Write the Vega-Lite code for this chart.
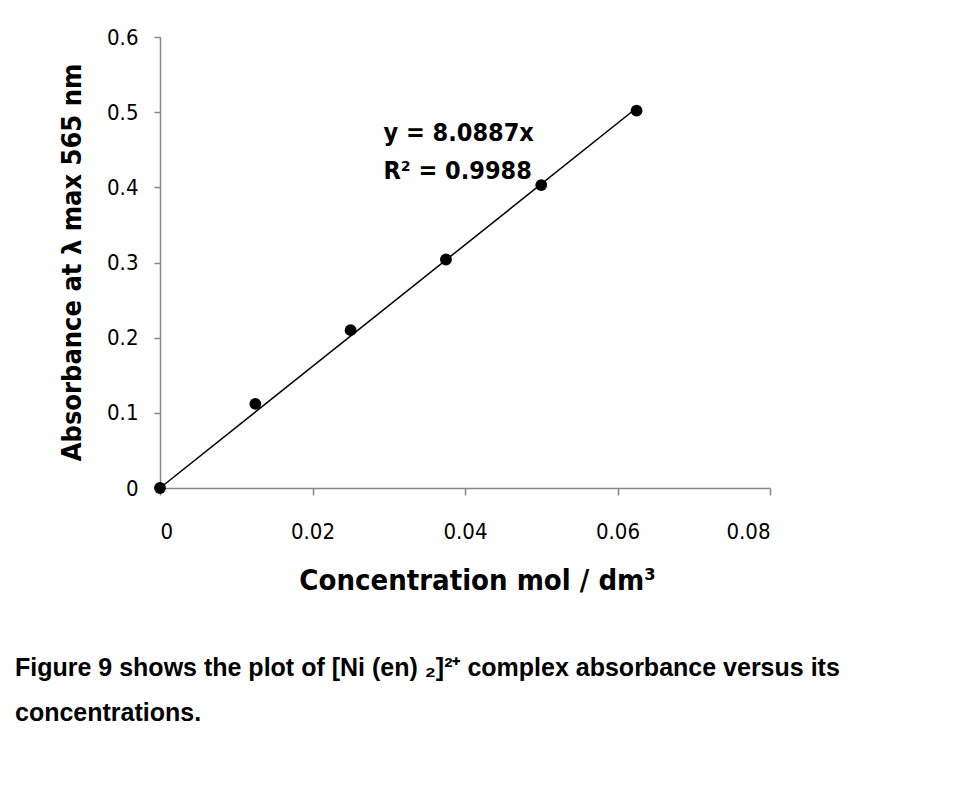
{
  "$schema": "https://vega.github.io/schema/vega-lite/v6.json",
  "width": 610,
  "height": 451,
  "autosize": {"type": "none"},
  "padding": {"left": 160, "top": 37, "right": 184, "bottom": 308},
  "background": "white",
  "config": {"view": {"stroke": null}},
  "title": {
    "text": ["Figure 9 shows the plot of [Ni (en) ₂]²⁺ complex absorbance versus its", "concentrations."],
    "orient": "bottom",
    "anchor": "start",
    "frame": "group",
    "dx": -145,
    "offset": 61,
    "font": "Liberation Sans",
    "fontSize": 25,
    "fontWeight": "bold",
    "color": "black",
    "lineHeight": 45,
    "baseline": "top"
  },
  "datasets": {
    "points": [
      {"conc": 0, "abs": 0},
      {"conc": 0.0125, "abs": 0.112},
      {"conc": 0.025, "abs": 0.21},
      {"conc": 0.0375, "abs": 0.304},
      {"conc": 0.05, "abs": 0.403},
      {"conc": 0.0625, "abs": 0.502}
    ],
    "fit": [
      {"conc": 0, "abs": 0},
      {"conc": 0.0625, "abs": 0.5055}
    ],
    "labels": [
      {"conc": 0.0293, "abs": 0.472, "label": "y = 8.0887x"},
      {"conc": 0.0293, "abs": 0.4215, "label": "R² = 0.9988"}
    ]
  },
  "layer": [
    {
      "data": {"name": "fit"},
      "mark": {"type": "line", "color": "black", "strokeWidth": 1.5},
      "encoding": {
        "x": {
          "field": "conc",
          "type": "quantitative",
          "scale": {"domain": [0, 0.08], "nice": false},
          "axis": {
            "values": [0, 0.02, 0.04, 0.06, 0.08],
            "format": "~g",
            "grid": false,
            "domainColor": "#868686",
            "domainWidth": 1.5,
            "tickColor": "#868686",
            "tickWidth": 1.5,
            "tickSize": 7,
            "labelPadding": 26,
            "labelFont": "DejaVu Sans Condensed",
            "labelFontSize": 22,
            "labelColor": "black",
            "title": "Concentration mol / dm³",
            "titleFont": "DejaVu Sans Condensed",
            "titleFontSize": 29,
            "titleFontWeight": "bold",
            "titleColor": "black",
            "titleX": 317,
            "titleY": 92,
            "titleBaseline": "middle",
            "titleAlign": "center"
          }
        },
        "y": {
          "field": "abs",
          "type": "quantitative",
          "scale": {"domain": [0, 0.6], "nice": false},
          "axis": {
            "values": [0, 0.1, 0.2, 0.3, 0.4, 0.5, 0.6],
            "format": "~g",
            "grid": false,
            "domainColor": "#868686",
            "domainWidth": 1.5,
            "tickColor": "#868686",
            "tickWidth": 1.5,
            "tickSize": 6,
            "labelPadding": 16,
            "labelFont": "DejaVu Sans Condensed",
            "labelFontSize": 22,
            "labelColor": "black",
            "title": "Absorbance at λ max 565 nm",
            "titleFont": "DejaVu Sans Condensed",
            "titleFontSize": 27,
            "titleFontWeight": "bold",
            "titleColor": "black",
            "titleX": -88,
            "titleY": 225,
            "titleAngle": -90,
            "titleBaseline": "middle",
            "titleAlign": "center"
          }
        }
      }
    },
    {
      "data": {"name": "points"},
      "mark": {"type": "circle", "color": "black", "opacity": 1, "size": 140},
      "encoding": {
        "x": {"field": "conc", "type": "quantitative"},
        "y": {"field": "abs", "type": "quantitative"}
      }
    },
    {
      "data": {"name": "labels"},
      "mark": {
        "type": "text",
        "align": "left",
        "baseline": "middle",
        "font": "DejaVu Sans Condensed",
        "fontSize": 25,
        "fontWeight": "bold",
        "color": "black"
      },
      "encoding": {
        "x": {"field": "conc", "type": "quantitative"},
        "y": {"field": "abs", "type": "quantitative"},
        "text": {"field": "label", "type": "nominal"}
      }
    }
  ]
}
